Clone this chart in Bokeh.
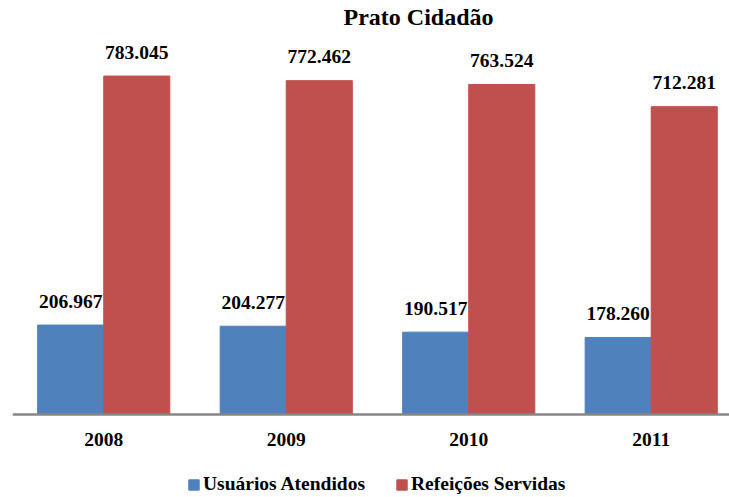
from bokeh.plotting import figure
from bokeh.models import ColumnDataSource, Legend, LegendItem, Range1d, Label, Span
from bokeh.core.properties import value
from bokeh.transform import dodge
from bokeh.embed import file_html
from bokeh.resources import INLINE

years = ["2008", "2009", "2010", "2011"]
usuarios = [206967, 204277, 190517, 178260]
refeicoes = [783045, 772462, 763524, 712281]
series_names = ["Usuários Atendidos", "Refeições Servidas"]
title_text = "Prato Cidadão"
colors = ["#4F81BD", "#C0504D"]

def fmt(v):
    return f"{v:,}".replace(",", ".")

xc = [i + 0.5 for i in range(len(years))]
src = ColumnDataSource(dict(
    x=xc, u=usuarios, r=refeicoes, base=[0] * len(years), yr=years,
    lu=[fmt(v) for v in usuarios], lr=[fmt(v) for v in refeicoes],
))

FONT = "Liberation Serif"
FS = "19.5px"
FH = 497

p = figure(frame_width=717, frame_height=FH, output_backend="svg", toolbar_location=None,
           x_range=Range1d(0, 3.929), y_range=Range1d(-192040, 957890),
           x_axis_location=None, y_axis_location=None,
           min_border_left=12, min_border_right=0,
           min_border_top=0, min_border_bottom=0, title=None)
p.outline_line_color = None
p.xgrid.visible = False
p.ygrid.visible = False

bw = 0.362
rb = p.vbar(x=dodge("x", -bw / 2, range=p.x_range), top="u", width=bw, source=src,
            fill_color=colors[0], line_color=colors[0])
rr = p.vbar(x=dodge("x", bw / 2, range=p.x_range), top="r", width=bw, source=src,
            fill_color=colors[1], line_color=colors[1])

# category axis: baseline and year labels
p.add_layout(Span(location=0, dimension="width", line_color="#868686", line_width=2.5))
p.text(x="x", y="base", text="yr", source=src, text_align="center",
       text_baseline="alphabetic", y_offset=25,
       text_font=value(FONT), text_font_style="bold", text_font_size=FS,
       text_color="black")

common = dict(text_align="center", text_baseline="alphabetic", y_offset=-24,
              text_font=value(FONT), text_font_style="bold", text_font_size=FS,
              text_color="black", source=src)
p.text(x=dodge("x", -bw / 2, range=p.x_range), y="u", text="lu", **common)
p.text(x=dodge("x", bw / 2, range=p.x_range), y="r", text="lr", **common)

title = Label(x=406, y=FH - 26 + 10, x_units="screen", y_units="screen", text=title_text,
              text_align="center", text_baseline="alphabetic",
              text_font=FONT, text_font_style="bold", text_font_size="24px",
              text_color="black")
p.add_layout(title)

legend = Legend(items=[LegendItem(label=series_names[0], renderers=[rb]),
                       LegendItem(label=series_names[1], renderers=[rr])],
                orientation="horizontal", location=(175, 2),
                border_line_color=None, background_fill_alpha=0,
                label_text_font=FONT, label_text_font_style="bold",
                label_text_font_size=FS, label_text_color="black",
                glyph_width=13, glyph_height=13, label_standoff=3,
                spacing=30, padding=0, margin=0)
p.add_layout(legend, "center")

open("out.html", "w").write(file_html(p, INLINE))
